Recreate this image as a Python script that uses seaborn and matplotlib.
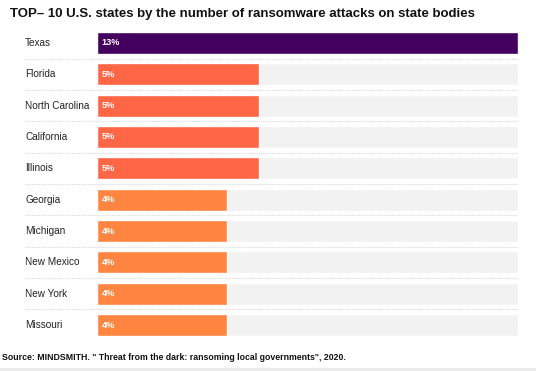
import matplotlib
matplotlib.use("Agg")
import matplotlib.pyplot as plt
import seaborn as sns
import pandas as pd

states = ["Texas", "Florida", "North Carolina", "California", "Illinois",
          "Georgia", "Michigan", "New Mexico", "New York", "Missouri"]
shares = [13, 5, 5, 5, 5, 4, 4, 4, 4, 4]
bar_colors = ["#44005e", "#ff6645", "#ff6645", "#ff6645", "#ff6645",
              "#ff8540", "#ff8540", "#ff8540", "#ff8540", "#ff8540"]
title = "TOP\u2013 10 U.S. states by the number of ransomware attacks on state bodies"
source = "Source: MINDSMITH. \" Threat from the dark: ransoming local governments\", 2020."

df = pd.DataFrame({"state": states, "share": shares})
df["full"] = max(shares)

sns.set_style("white")
plt.rcParams["font.family"] = ["Liberation Sans", "DejaVu Sans"]

W, H = 536, 371
fig = plt.figure(figsize=(W / 100, H / 100), dpi=100)
ax = fig.add_axes([97 / W, 1 - 340.7 / H, (518 - 97) / W, (340.7 - 27.3) / H])

sns.barplot(data=df, y="state", x="full", color="#f2f2f2", width=0.70,
            ax=ax, orient="h", saturation=1)
sns.barplot(data=df, y="state", x="share", hue="state", palette=bar_colors,
            width=0.70, ax=ax, orient="h", saturation=1, legend=False)

ax.set_xlim(0, 13)
ax.set_ylim(len(states) - 0.5, -0.5)
ax.set_xlabel("")
ax.set_ylabel("")
ax.set_xticks([])
ax.set_yticks([])
for s in ax.spines.values():
    s.set_visible(False)

for i, (st, v) in enumerate(zip(states, shares)):
    ax.text(0.14, i, f"{v}%", color="white", fontsize=6.6, fontweight="bold",
            va="center", ha="left")
    ax.text(-72 / 421 * 13, i, st, color="#222222", fontsize=7.2,
            va="center", ha="left", clip_on=False)

# dotted separators between rows
for i in range(len(states) - 1):
    y = i + 0.5
    ax.plot([-72 / 421 * 13, 13], [y, y], color="#d9d9d9", lw=0.8,
            ls=(0, (1, 1)), clip_on=False, zorder=0)

fig.text(10 / W, 1 - 14 / H, title, fontsize=9.5, fontweight="bold",
         color="#111111", va="center", ha="left")
fig.text(2 / W, 1 - 358 / H, source, fontsize=6.35, fontweight="bold",
         color="#111111", va="center", ha="left")

fig.patches.append(plt.Rectangle((0, 0), 1, 3 / H, transform=fig.transFigure,
                                 color="#ececec", zorder=0))

fig.savefig("out.png", dpi=100)
